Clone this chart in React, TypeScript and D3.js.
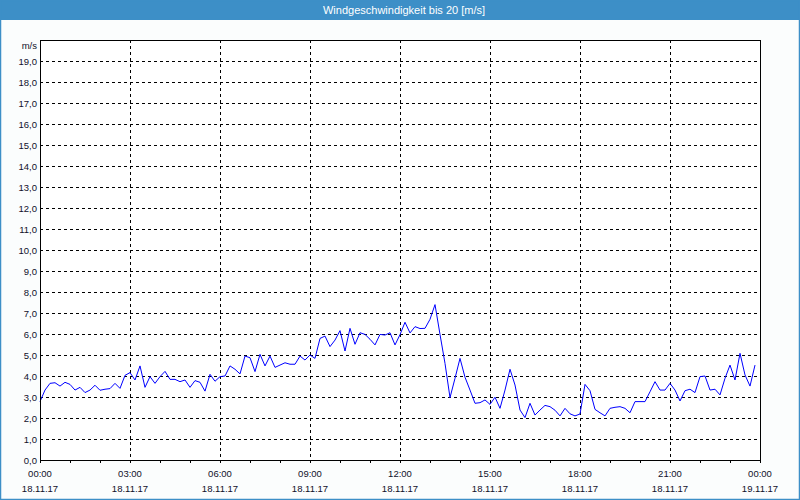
import React, { useEffect } from "react";
import * as d3 from "d3";

const TITLE = "Windgeschwindigkeit bis 20 [m/s]";
const UNIT = "m/s";
const START = new Date(2017, 10, 18, 0, 0);
const END = new Date(2017, 10, 19, 0, 0);
const STEP_MINUTES = 10;

// wind speed every 10 minutes, 00:00 .. 23:50
const windSpeed: number[] = [
  2.78, 3.33, 3.65, 3.68, 3.52, 3.7, 3.6, 3.33, 3.46, 3.21,
  3.33, 3.56, 3.32, 3.37, 3.4, 3.65, 3.41, 4.03, 4.16, 3.81,
  4.48, 3.46, 3.97, 3.65, 3.97, 4.22, 3.84, 3.84, 3.73, 3.81,
  3.46, 3.78, 3.7, 3.28, 4.08, 3.75, 3.97, 4.0, 4.48, 4.32,
  4.1, 4.95, 4.87, 4.21, 5.03, 4.48, 4.95, 4.41, 4.52, 4.63,
  4.56, 4.56, 4.95, 4.76, 5.0, 4.84, 5.79, 5.9, 5.4, 5.71,
  6.16, 5.19, 6.27, 5.51, 6.06, 5.98, 5.75, 5.48, 5.98, 5.95,
  6.06, 5.48, 5.97, 6.56, 6.05, 6.35, 6.26, 6.27, 6.7, 7.4,
  5.98, 4.6, 2.97, 3.89, 4.84, 3.94, 3.33, 2.7, 2.73, 2.86,
  2.65, 2.99, 2.46, 3.33, 4.32, 3.57, 2.38, 2.02, 2.7, 2.14,
  2.38, 2.6, 2.54, 2.37, 2.1, 2.46, 2.2, 2.1, 2.19, 3.6,
  3.3, 2.41, 2.25, 2.1, 2.46, 2.51, 2.54, 2.46, 2.25, 2.78,
  2.78, 2.78, 3.25, 3.73, 3.33, 3.33, 3.65, 3.33, 2.81, 3.3,
  3.37, 3.21, 3.97, 4.0, 3.33, 3.37, 3.1, 3.89, 4.52, 3.81,
  5.08, 4.05, 3.52, 4.52,
];

const yTicks: number[] = d3.range(0, 20, 1);
const xLabelHours: number[] = [0, 3, 6, 9, 12, 15, 18, 21, 24];

const W = 800;
const H = 500;
const M = { left: 40, right: 40, top: 40, bottom: 40 };
const BLUE = "#3d8fc7";
const TEXT = "#10102a";
const FONT = "'Liberation Sans', Arial, sans-serif";

export default function App() {
  useEffect(() => {
    document.body.style.margin = "0";
  }, []);

  const x = d3.scaleTime().domain([START, END]).range([M.left, W - M.right]);
  const y = d3.scaleLinear().domain([0, 20]).range([H - M.bottom, M.top]);

  const points = windSpeed.map((v, i) => ({
    t: d3.timeMinute.offset(START, i * STEP_MINUTES),
    v,
  }));
  const line = d3
    .line<{ t: Date; v: number }>()
    .x((d) => x(d.t))
    .y((d) => y(d.v));

  const hourTicks = d3.timeHour.range(START, d3.timeHour.offset(END, 1));
  const fmtTime = d3.timeFormat("%H:%M");
  const fmtDate = d3.timeFormat("%d.%m.%y");

  const x0 = M.left;
  const x1 = W - M.right;
  const y0 = H - M.bottom;
  const y1 = M.top;

  return (
    <svg
      width={W}
      height={H}
      style={{ position: "absolute", left: 0, top: 0, display: "block" }}
      fontFamily={FONT}
    >
      <rect x={0} y={0} width={W} height={H} fill="#fbfdfd" />
      <rect x={0} y={0} width={W} height={20} fill={BLUE} />
      <text
        x={W / 2 + 4}
        y={14}
        textAnchor="middle"
        fill="#ffffff"
        fontSize={11}
      >
        {TITLE}
      </text>
      <rect
        x={0.5}
        y={0.5}
        width={W - 1}
        height={H - 1}
        fill="none"
        stroke={BLUE}
        strokeWidth={1.5}
      />

      <rect x={x0} y={y1} width={x1 - x0} height={y0 - y1} fill="#ffffff" />

      {/* horizontal grid */}
      {yTicks
        .filter((v) => v > 0)
        .map((v) => (
          <line
            key={"h" + v}
            x1={x0}
            x2={x1}
            y1={Math.round(y(v)) + 0.5}
            y2={Math.round(y(v)) + 0.5}
            stroke="#000"
            strokeDasharray="3,3"
            shapeRendering="crispEdges"
          />
        ))}
      {/* vertical grid */}
      {xLabelHours
        .filter((h) => h > 0 && h < 24)
        .map((h) => {
          const px = Math.round(x(d3.timeHour.offset(START, h))) + 0.5;
          return (
            <line
              key={"v" + h}
              x1={px}
              x2={px}
              y1={y1}
              y2={y0}
              stroke="#000"
              strokeDasharray="3,3"
              shapeRendering="crispEdges"
            />
          );
        })}

      {/* data line */}
      <path
        d={line(points) || ""}
        fill="none"
        stroke="#0000ff"
        strokeWidth={1}
      />

      {/* frame */}
      <rect
        x={x0 + 0.5}
        y={y1 + 0.5}
        width={x1 - x0}
        height={y0 - y1}
        fill="none"
        stroke="#000"
        strokeWidth={1.5}
        shapeRendering="crispEdges"
      />

      {/* bottom hour ticks */}
      {hourTicks.map((t, i) => {
        const px = Math.round(x(t)) + 0.5;
        return (
          <line
            key={"t" + i}
            x1={px}
            x2={px}
            y1={y0}
            y2={y0 + 3}
            stroke="#000"
            shapeRendering="crispEdges"
          />
        );
      })}

      {/* y labels */}
      {yTicks.map((v) => (
        <text
          key={"yl" + v}
          x={37}
          y={y(v) + 3.5}
          textAnchor="end"
          fontSize={9.5}
          fill={TEXT}
        >
          {v.toFixed(1).replace(".", ",")}
        </text>
      ))}
      <text x={37} y={y1 + 9} textAnchor="end" fontSize={9.5} fill={TEXT}>
        {UNIT}
      </text>

      {/* x labels */}
      {xLabelHours.map((h) => {
        const t = d3.timeHour.offset(START, h);
        const px = x(t);
        return (
          <g key={"xl" + h}>
            <text
              x={px}
              y={477}
              textAnchor="middle"
              fontSize={9.5}
              fill={TEXT}
            >
              {fmtTime(t)}
            </text>
            <text
              x={px}
              y={492}
              textAnchor="middle"
              fontSize={9.5}
              fill={TEXT}
            >
              {fmtDate(t)}
            </text>
          </g>
        );
      })}
    </svg>
  );
}
